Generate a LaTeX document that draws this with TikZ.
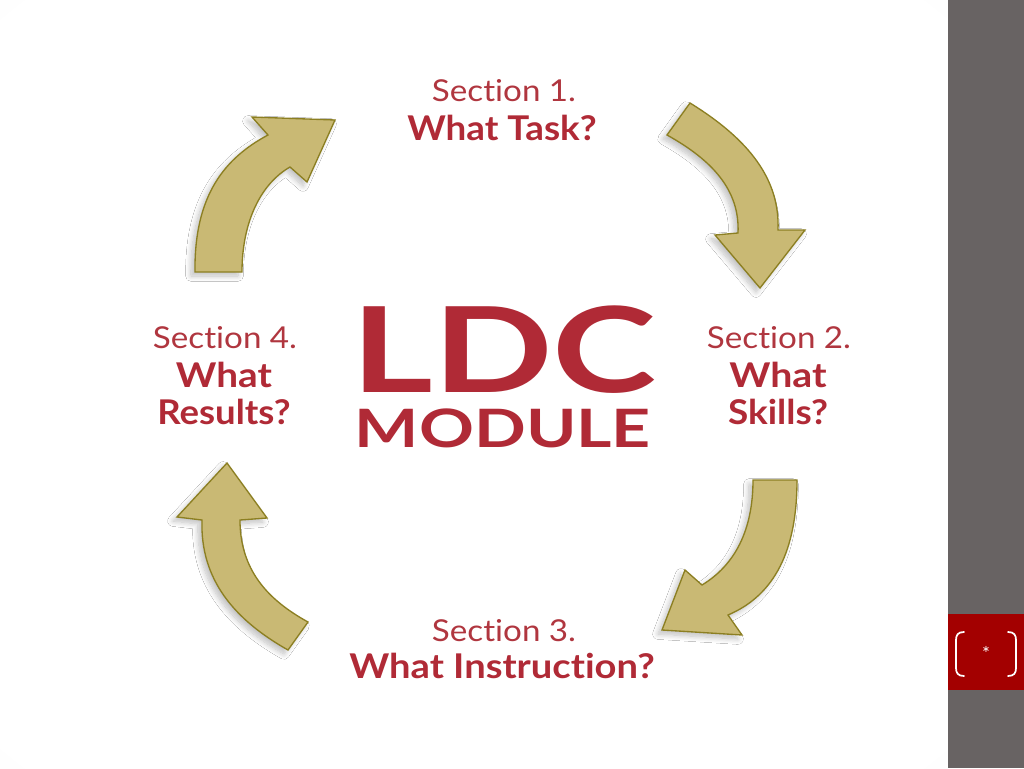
\documentclass[tikz,border=0pt]{standalone}
\usepackage{fontspec}
\setmainfont[Ligatures=NoCommon]{Lato}
\usepackage{graphicx}
\usetikzlibrary{shadows.blur}
\definecolor{ldcred}{HTML}{B02A36}
\definecolor{secred}{HTML}{B0363F}
\definecolor{tanfill}{HTML}{C9B974}
\definecolor{tanline}{HTML}{8C7F22}
\definecolor{barGray}{HTML}{686363}
\definecolor{boxRed}{HTML}{A30000}
\pgfdeclareradialshading{vign}{\pgfpoint{0bp}{0bp}}{color(0bp)=(white); color(34bp)=(white); color(72bp)=(black!16)}
\tikzset{
  arrowshape/.style={fill=tanfill, draw=tanline, line width=1pt, line join=miter,
    blur shadow={shadow xshift=-3pt, shadow yshift=-3pt, shadow opacity=25, shadow blur steps=10, shadow blur radius=4pt}},
  lbl/.style={inner sep=0pt, anchor=base, text=secred},
  lblb/.style={inner sep=0pt, anchor=base, text=ldcred, font=\bfseries}
}
\newcommand{\fitbox}[3]{\resizebox{#1}{#2}{#3}}
\begin{document}
\begin{tikzpicture}[x=0.75pt,y=-0.75pt]
\useasboundingbox (0,0) rectangle (1024,768);
% background
\shade[shading=vign] (0,0) rectangle (948,768);
\fill[white] (150,72) rectangle (850,686);
\fill[barGray] (948,0) rectangle (1024,768);
\fill[boxRed] (948,614) rectangle (1024,690);
\draw[white, line width=1.3pt, line cap=round] (964,632) .. controls (958,632) and (956,635) .. (956,640) -- (956,668) .. controls (956,673) and (958,676) .. (964,676);
\draw[white, line width=1.3pt, line cap=round] (1008,632) .. controls (1014,632) and (1016,635) .. (1016,640) -- (1016,668) .. controls (1016,673) and (1014,676) .. (1008,676);
\node[text=white, font=\fontsize{14}{14}\selectfont, inner sep=0pt] (star) at (986,653) {*};

% arrows
\path[arrowshape] (195,272) .. controls (194,195) and (225,158) .. (268,135) -- (252,117) -- (335,120) -- (307,182) -- (290,167) .. controls (262,183) and (242,220) .. (242,272) -- cycle;
\path[arrowshape] (667,135) -- (690,103) .. controls (750,140) and (780,180) .. (778,230) -- (805,230) -- (760,288) -- (715,235) -- (738,233) .. controls (740,190) and (712,160) .. (667,135) -- cycle;
\path[arrowshape] (753,480) -- (797,480) .. controls (797,550) and (775,595) .. (728,615) -- (742,635) -- (662,630) -- (685,570) -- (702,585) .. controls (735,565) and (753,530) .. (753,480) -- cycle;
\path[arrowshape] (227,463) -- (267,518) -- (240,520) .. controls (240,570) and (268,600) .. (308,622) -- (288,650) .. controls (235,620) and (200,580) .. (202,520) -- (177,517) -- cycle;

% center
\node[inner sep=0pt, anchor=base, text=ldcred] (ldc) at (504,392) {\fitbox{229pt}{65pt}{\bfseries LDC}};
\node[inner sep=0pt, anchor=base, text=ldcred] (module) at (503,447) {\fitbox{222pt}{29pt}{\bfseries MODULE}};

% section 1
\node[lbl] (s1a) at (504,101) {\fitbox{108pt}{16.5pt}{Section 1.}};
\node[lblb] (s1b) at (502,140) {\fitbox{142pt}{19pt}{\bfseries What Task?}};
% section 2
\node[lbl] (s2a) at (779,348) {\fitbox{108pt}{16.5pt}{Section 2.}};
\node[lblb] (s2b) at (778,387) {\fitbox{73pt}{19pt}{\bfseries What}};
\node[lblb] (s2c) at (778,424) {\fitbox{75pt}{19pt}{\bfseries Skills?}};
% section 3
\node[lbl] (s3a) at (504,641) {\fitbox{108pt}{16.5pt}{Section 3.}};
\node[lblb] (s3b) at (502,678) {\fitbox{229pt}{19pt}{\bfseries What Instruction?}};
% section 4
\node[lbl] (s4a) at (225,348) {\fitbox{108pt}{16.5pt}{Section 4.}};
\node[lblb] (s4b) at (224,387) {\fitbox{72pt}{19pt}{\bfseries What}};
\node[lblb] (s4c) at (224,424) {\fitbox{100pt}{19pt}{\bfseries Results?}};
\end{tikzpicture}
\end{document}
